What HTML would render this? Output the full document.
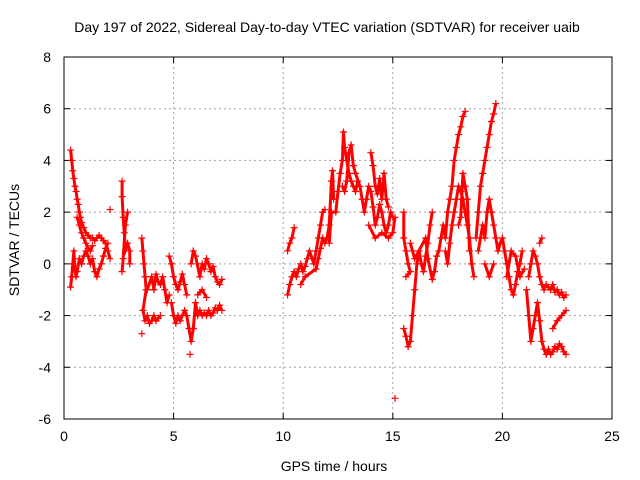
<!DOCTYPE html>
<html><head><meta charset="utf-8"><style>
body{margin:0;background:#fff;}
svg{display:block;font-family:"Liberation Sans",sans-serif;}
</style></head><body>
<svg id="chart" width="640" height="480">
<text x="327" y="32" text-anchor="middle" font-size="14">Day 197 of 2022, Sidereal Day-to-day VTEC variation (SDTVAR) for receiver uaib</text>
<text x="334" y="471" text-anchor="middle" font-size="14">GPS time / hours</text>
<text transform="translate(19,240) rotate(-90)" text-anchor="middle" font-size="14">SDTVAR / TECUs</text>
<g id="grid"></g><g id="marks"></g>
<rect x="64" y="57" width="548" height="362" fill="none" stroke="#000" stroke-width="1"/>
</svg>
<script>
const xTicks=[0,5,10,15,20,25];
const yTicks=[-6,-4,-2,0,2,4,6,8];
const traceHours=[
[0.3,0.35,0.4,0.45,0.5,0.55,0.6,0.65,0.7,0.75,0.8,0.9,1.0,1.1,1.2,1.3,1.4,1.5,1.6,1.7,1.8,1.9,2.0,2.1],
[0.3,0.35,0.4,0.45,0.5,0.55,0.6,0.7,0.8,0.9,1.0,1.1,1.2,1.3,1.4,1.5,1.6,1.7,1.8,1.9,2.0],
[0.6,0.7,0.8,0.9,1.0,1.1,1.2,1.3],
[2.1],
[2.65,2.65,2.7,2.75,2.8,2.9,3.0,3.0],
[2.65,2.7,2.8,2.9],
[3.55,3.6,3.65,3.7,3.75,3.6,3.7,3.8,3.9,4.0,4.1,4.2,4.3,4.4],
[3.55],
[3.8,4.0,4.1,4.2,4.3,4.4,4.5,4.6,4.7,4.8],
[4.8,4.9,5.0,5.1,5.2,5.3,5.4,5.5,5.6],
[4.9,5.0,5.1,5.2,5.3,5.5,5.6,5.7,5.8,5.9,6.0,6.1,6.2,6.3,6.4,6.5,6.6,6.7,6.8,6.9,7.0,7.1,7.2],
[5.75],
[5.8,5.9,6.0,6.2,6.3,6.4,6.5,6.6,6.7,6.8,6.9,7.0,7.1,7.2],
[6.1,6.3,6.5],
[10.2,10.3,10.4,10.5,10.6,10.7,10.8,10.9,11.0,11.1,11.2,11.4,11.5,11.6,11.7,11.8,11.9],
[10.2,10.3,10.4,10.5],
[10.8,11.0,11.5,11.6,11.7,11.8,11.9,12.0,12.1,12.2,12.25,12.3],
[12.1,12.2,12.4,12.5,12.6,12.7,12.75,12.8,12.9,13.0,13.1,13.2,13.3,13.4],
[12.7,12.8,12.9,13.0,13.1,13.2,13.3,13.5,13.6,13.7,13.8,13.9,14.0,14.1,14.2,14.3,14.4,14.5,14.6,14.7,14.8,14.9,15.0],
[14.0,14.1,14.2,14.3,14.4,14.5,14.6,14.7,14.8],
[13.9,14.2,14.5,14.8,15.0,15.1],
[15.1],
[15.5,15.5,15.6,15.7,15.8,15.6],
[15.5,15.6,15.7,15.8,15.9,16.0,16.1,16.2,16.3,16.4,16.5,16.6,16.7,16.8],
[15.8,15.9,16.0,16.5,16.6,16.8,16.9,17.0,17.1,17.2,17.3,17.4,17.5,17.6,17.7,17.8,17.9,18.0,18.1,18.2,18.3],
[17.4,17.5,17.6,17.7,17.8,17.9,18.0,18.1,18.2,18.3,18.4,18.5,18.6,18.7],
[18.0,18.1,18.2,18.3,18.4,18.5],
[18.8,18.9,19.0,19.1,19.2,19.3,19.4,19.5,19.6,19.7],
[18.9,19.0,19.1,19.2,19.3,19.4,19.5,19.6,19.7,19.8,19.9,20.0,20.1,20.2,20.3,20.4,20.5,20.6,20.7,20.8,20.9],
[19.2,19.4,19.6],
[20.2,20.4,20.6,20.8,21.0],
[21.1,21.2,21.3,21.4,21.5,21.6,21.7,21.8,21.9,22.0,22.1,22.2,22.3,22.4,22.5,22.6,22.7,22.8,22.9],
[21.2,21.3,21.4,21.5,21.6,21.7,21.8,21.9,22.0,22.1,22.2,22.3,22.4,22.5,22.6,22.7,22.8,22.9],
[21.7,21.8],
[22.3,22.5,22.7,22.9]
];
const traceValues=[
[4.4,4.0,3.6,3.3,3.0,2.8,2.5,2.3,2.0,1.8,1.6,1.4,1.2,1.1,1.0,1.0,0.9,1.0,1.1,1.0,0.9,0.8,0.5,0.2],
[-0.9,-0.5,0.0,0.5,-0.2,-0.5,-0.3,0.2,0.0,0.3,0.5,0.3,0.0,0.2,-0.3,-0.5,-0.2,0.0,0.3,0.6,0.8],
[1.8,1.5,1.2,1.0,0.8,0.6,0.5,0.7],
[2.1],
[3.2,2.6,1.8,1.2,0.5,0.8,0.5,0.0],
[-0.3,0.2,1.5,2.0],
[1.0,0.5,0.0,-0.5,-1.0,-1.8,-2.2,-2.0,-2.3,-2.2,-2.0,-2.2,-2.1,-2.0],
[-2.7],
[-1.0,-0.5,-1.0,-0.4,-0.7,-0.8,-0.5,-1.0,-1.5,-1.2],
[0.3,0.0,-0.5,-0.8,-1.0,-0.7,-0.4,-0.8,-1.2],
[-1.5,-2.0,-2.3,-2.0,-2.2,-1.8,-2.0,-2.5,-3.0,-2.5,-1.5,-2.0,-1.8,-2.0,-1.9,-2.0,-1.8,-2.0,-1.9,-1.7,-1.8,-1.6,-1.8],
[-3.5],
[0.0,0.5,0.3,-0.5,0.0,-0.2,0.2,0.0,-0.3,-0.1,-0.5,-0.7,-0.8,-0.6],
[-1.2,-1.0,-1.3],
[-1.2,-0.8,-0.5,-0.3,-0.5,-0.2,0.0,-0.3,-0.1,0.2,0.5,0.0,0.5,1.0,1.5,2.0,2.1],
[0.5,0.8,1.0,1.4],
[-0.8,-0.5,-0.2,0.2,0.6,1.0,0.8,1.0,1.5,3.2,3.6,2.5],
[0.8,2.0,2.0,2.8,3.5,4.0,5.1,4.5,4.0,3.5,3.2,3.0,2.8,3.2],
[3.0,2.8,3.2,4.3,4.6,3.8,3.5,3.0,2.5,2.0,2.5,3.0,2.8,2.2,1.5,1.8,2.3,2.0,1.5,1.2,1.5,2.0,1.8],
[4.3,3.8,3.0,2.7,3.3,2.5,3.5,2.5,2.2],
[1.5,1.0,1.2,1.0,1.2,1.8],
[-5.2],
[2.0,1.0,0.5,0.0,-0.3,-0.5],
[-2.5,-2.8,-3.2,-3.0,-2.0,-1.0,0.0,0.5,0.0,-0.3,0.3,0.8,1.5,2.0],
[0.8,0.5,0.2,1.0,0.2,-0.6,-0.3,0.3,0.5,1.0,1.5,1.0,2.0,2.5,3.0,4.0,4.5,5.0,5.3,5.7,5.9],
[0.5,0.0,0.8,1.5,2.0,2.5,3.0,2.8,2.5,2.0,1.5,1.0,0.0,-0.5],
[1.5,1.8,3.5,3.0,2.5,0.5],
[1.0,2.0,3.0,3.5,4.0,4.5,5.0,5.5,5.8,6.2],
[0.5,1.0,1.5,1.0,2.0,2.5,2.0,1.5,1.0,0.5,0.8,1.0,0.5,0.0,-0.5,-1.0,-1.2,-0.8,-0.3,0.0,0.5],
[0.0,-0.5,0.0],
[-0.5,0.5,0.3,-0.5,-0.2],
[-1.0,-2.0,-3.0,-2.5,-2.0,-1.5,-2.2,-3.0,-3.3,-3.5,-3.3,-3.5,-3.4,-3.2,-3.3,-3.1,-3.2,-3.4,-3.5],
[-0.5,0.0,0.5,0.3,0.0,-0.5,-0.8,-1.0,-0.8,-0.9,-1.0,-0.8,-1.1,-1.0,-1.2,-1.1,-1.3,-1.2],
[0.8,1.0],
[-2.5,-2.2,-2.0,-1.8]
];
const NS='http://www.w3.org/2000/svg';
const X0=64,X1=612,Y0=419,Y1=57;
function xs(t){return X0+(t-0)/(25-0)*(X1-X0);}
function ys(v){return Y0-(v-(-6))/(8-(-6))*(Y0-Y1);}
const grid=document.getElementById('grid'),marks=document.getElementById('marks');
function mk(tag,a,p){const e=document.createElementNS(NS,tag);for(const k in a)e.setAttribute(k,a[k]);p.appendChild(e);return e;}
xTicks.forEach(t=>{
  const x=xs(t);
  if(t>0&&t<25){const g=mk('line',{x1:x,x2:x,y1:Y1,y2:Y0,stroke:'#a0a0a0','stroke-dasharray':'2,3'},grid);
  
  }
  mk('line',{x1:x,x2:x,y1:Y0,y2:Y0-6,stroke:'#000'},grid);
  mk('line',{x1:x,x2:x,y1:Y1,y2:Y1+6,stroke:'#000'},grid);
  const l=mk('text',{x:x,y:Y0+22,'text-anchor':'middle','font-size':14},grid);l.textContent=t;
  
  
});
yTicks.forEach(v=>{
  const y=ys(v);
  if(v>-6&&v<8){const g=mk('line',{x1:X0,x2:X1,y1:y,y2:y,stroke:'#a0a0a0','stroke-dasharray':'2,3'},grid);
  
  }
  mk('line',{x1:X0,x2:X0+6,y1:y,y2:y,stroke:'#000'},grid);
  mk('line',{x1:X1,x2:X1-6,y1:y,y2:y,stroke:'#000'},grid);
  const l=mk('text',{x:X0-13,y:y+5,'text-anchor':'end','font-size':14},grid);l.textContent=v;
  
  
});
traceHours.forEach((ts,i)=>{
  const vs=traceValues[i];
  const pts=ts.map((t,j)=>xs(t)+','+ys(vs[j])).join(' ');
  if(ts.length>1){const pl=mk('polyline',{points:pts,fill:'none',stroke:'#ff0000','stroke-width':3,'stroke-linejoin':'round'},marks);
  
  }
  ts.forEach((t,j)=>{
    const x=xs(t),y=ys(vs[j]);
    const p=mk('path',{d:`M${x-3.5},${y}H${x+3.5}M${x},${y-3.5}V${y+3.5}`,stroke:'#ff0000','stroke-width':1.2},marks);
    
    
  });
});
</script>
</body></html>
